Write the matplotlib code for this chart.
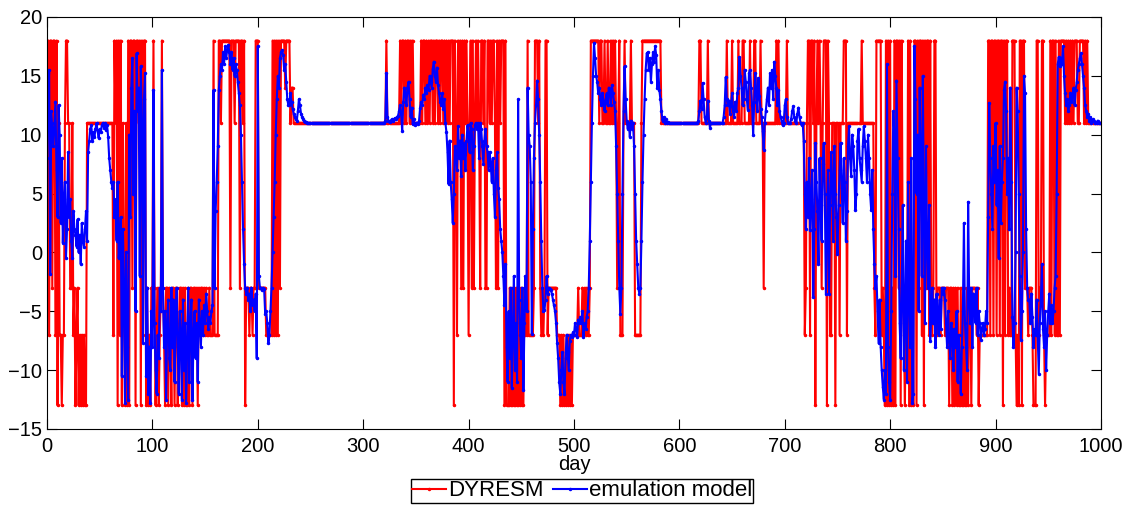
import numpy as np
import matplotlib
matplotlib.use("Agg")
import matplotlib.pyplot as plt

plt.rcParams['font.family'] = ['Liberation Sans', 'DejaVu Sans']

# DYRESM output, one value per day (days 0..999)
dyresm = [
    18, 18, -7, 18, 18, -3, 18, 18, -7, 18,
    -13, 11, -7, -7, -13, -7, -7, 11, 18, 18,
    11, 11, -3, -3, 11, -7, -3, -13, -7, -3,
    -13, -7, -13, -7, -13, -7, -13, -13, 11, 11,
    11, 11, 11, 11, 11, 11, 11, 11, 11, 11,
    11, 11, 11, 11, 11, 11, 11, 11, 11, 11,
    11, 11, 11, -7, 18, 11, 18, -13, 18, -7,
    18, -13, 11, -3, -13, 11, -13, 18, -13, 18,
    18, -3, 18, 18, -13, 18, 18, 11, 18, -13,
    18, -7, 18, 18, -13, -3, -13, -7, -13, -3,
    -3, 18, -3, -13, -7, -3, -13, -7, -3, 18,
    -3, -7, -13, -3, -3, -13, -3, -7, -13, -3,
    -3, -13, -3, -3, -13, -7, -3, -3, -13, -3,
    -13, -3, -13, -13, -3, -13, -3, -3, -13, -3,
    -3, -7, -3, -13, -3, -7, -3, -3, -7, -3,
    -7, -3, -7, -7, -3, -7, -7, -7, 18, -7,
    -7, -7, -7, 18, 18, 11, 18, 18, 18, 18,
    18, 18, 18, 18, -3, 18, 18, 18, 11, 18,
    18, 18, 18, -3, 18, 18, 11, 18, -13, -3,
    -3, -3, -7, -3, -3, -7, -3, -3, 18, 18,
    18, -3, -3, -3, -3, -3, -3, -3, -7, -7,
    -7, -7, -7, -7, 18, -7, 18, -7, 18, -7,
    18, -3, 18, 18, 18, 18, 14, 18, 18, 18,
    18, 11, 14, 14, 11, 11, 11, 11, 11, 11,
    11, 11, 11, 11, 11, 11, 11, 11, 11, 11,
    11, 11, 11, 11, 11, 11, 11, 11, 11, 11,
    11, 11, 11, 11, 11, 11, 11, 11, 11, 11,
    11, 11, 11, 11, 11, 11, 11, 11, 11, 11,
    11, 11, 11, 11, 11, 11, 11, 11, 11, 11,
    11, 11, 11, 11, 11, 11, 11, 11, 11, 11,
    11, 11, 11, 11, 11, 11, 11, 11, 11, 11,
    11, 11, 11, 11, 11, 11, 11, 11, 11, 11,
    11, 11, 18, 11, 11, 11, 11, 11, 11, 11,
    11, 11, 11, 11, 11, 18, 11, 18, 18, 11,
    18, 11, 18, 18, 11, 18, 11, 18, 11, 11,
    11, 11, 11, 11, 11, 18, 11, 18, 18, 11,
    18, 11, 18, 11, 18, 18, 11, 18, 11, 18,
    18, 11, 18, 11, 18, 18, 11, 18, 11, 18,
    11, 18, 11, 18, 18, 18, -13, 18, 11, -7,
    18, 11, 18, -3, 18, -3, 18, 11, 18, 11,
    -7, 11, 18, -3, 18, -3, 11, 18, 11, 18,
    11, -3, 18, 18, 11, 18, -3, -3, 18, 18,
    11, 18, 11, 18, 18, 11, -3, 18, -3, 18,
    11, 18, 18, 18, -13, 18, -13, -13, -13, -3,
    -13, -13, -3, -13, -13, -3, -13, -13, -3, -13,
    -3, -13, -13, -3, -7, -7, 18, -7, -7, -7,
    -7, -7, -3, 18, 18, 18, 11, 18, -3, -7,
    -3, -7, -3, 18, 18, -7, -3, -3, -3, -3,
    -3, -3, -3, -3, -7, -7, -7, -13, -7, -13,
    -7, -13, -13, -7, -13, -7, -13, -7, -13, -7,
    -7, -7, -7, -7, -3, -7, -7, -7, -3, -7,
    -3, -7, -3, -7, -7, -3, 18, 18, 18, 18,
    18, 18, 18, 18, 11, 18, 18, 11, 11, 18,
    11, 11, 18, 11, 11, 18, 11, 18, 11, 18,
    11, -3, 11, 18, -7, -7, -7, 11, 18, 11,
    11, 11, 11, 11, 18, 11, 11, 11, -7, -7,
    -7, -7, -7, -7, 11, 18, 18, 18, 18, 18,
    18, 18, 18, 18, 18, 18, 18, 18, 18, 18,
    18, 18, 18, 11, 11, 11, 11, 11, 11, 11,
    11, 11, 11, 11, 11, 11, 11, 11, 11, 11,
    11, 11, 11, 11, 11, 11, 11, 11, 11, 11,
    11, 11, 11, 11, 11, 11, 11, 11, 11, 18,
    18, 11, 11, 11, 11, 11, 11, 18, 11, 11,
    11, 11, 11, 11, 11, 11, 11, 11, 11, 11,
    11, 11, 11, 11, 11, 18, 11, 11, 11, 11,
    18, 11, 11, 11, 11, 11, 18, 11, 11, 11,
    18, 18, 11, 11, 11, 11, 11, 18, 11, 11,
    11, 18, 18, 11, 11, 11, 11, 18, 11, 11,
    -3, 11, 11, 11, 11, 11, 11, 11, 11, 11,
    11, 11, 18, 11, 18, 11, 11, 11, 11, 11,
    11, 11, 18, 11, 11, 11, 11, 11, 11, 11,
    11, 11, 11, 11, 11, 11, 11, 11, 11, -7,
    -3, 11, 18, 18, -7, 18, 18, 11, 18, -13,
    11, 18, 11, 18, 11, -3, 11, 18, 18, 18,
    -13, 18, 11, -7, -7, 11, 11, 11, -13, 11,
    11, 11, -7, 11, 11, 11, 18, 18, 18, -7,
    11, 11, 11, 11, 11, 11, 11, 11, 11, 11,
    11, 11, 11, 18, 11, 11, 11, 11, 11, 11,
    11, 11, 11, 11, 11, -3, -7, 18, 18, 18,
    18, 18, -7, -3, -7, -13, 18, -13, 18, -13,
    18, -13, -3, -13, 18, -13, 18, 18, -3, 18,
    -13, 18, -3, -7, -13, -3, -7, 18, -13, 18,
    -13, -3, -13, 18, 18, -13, 18, -3, 18, 18,
    -7, 18, -13, 18, -3, 18, 18, -7, 18, -3,
    -7, -3, 18, 18, -7, -3, -3, -3, -7, -3,
    -3, -3, -7, -3, -3, -3, -13, -3, -3, -13,
    -3, -13, -3, -13, -3, -13, -13, -3, -13, -13,
    -3, -13, -13, -3, -13, -3, -3, -13, -3, -3,
    -3, -3, -7, -3, -13, -7, -7, -7, -7, -7,
    -7, -7, -7, 18, 18, -7, 18, 18, -7, 18,
    18, -7, 18, 18, -7, 18, 18, -13, 18, -7,
    18, 18, -7, -3, -7, -7, 18, 18, 18, -7,
    -13, -7, -13, 18, 18, -13, 18, 18, -3, -3,
    -3, -7, -3, -3, -3, -7, -13, -13, -13, 18,
    18, -7, -3, -3, 18, 18, -7, -13, -7, -7,
    -7, -7, 18, -7, 18, 18, -7, 18, -7, -7,
    18, -7, 18, 18, 18, 18, 11, 18, 11, 18,
    11, 18, 11, 18, 11, 18, 18, 18, 11, 11,
    18, 18, 18, 18, 11, 18, 11, 18, 11, 11,
    11, 11, 11, 11, 11, 11, 11, 11, 11, 11,
]

# emulation model output, one value per day (days 0..999)
emulation = [
    8, 15.2, 15.5, -1.8, 12, 10.5, 9, 11, 12.8, 7,
    3, 12.5, 10, 2.5, 8, 0.8, 4.5, 6, -0.5, 2,
    8.5, 3, 4.5, 1, -0.5, 3.5, 2, 1.5, 0.5, 2.8,
    0, 1.5, -1, 2.5, 1, 0.5, 2, 3.5, 1, 8.5,
    9.5, 10.5, 10.8, 9.5, 10.2, 9.8, 10.5, 11, 10.3, 9.7,
    10.5, 10.2, 10.8, 11, 10.6, 11, 10.4, 10.8, 9.8, 8,
    7, 6, 5.5, 6, 3, 4.5, 1, 6, -0.5, 0.8,
    3, -10.5, 2, -3, -12.8, 0, -8, -12.5, 10, 3,
    14, 16.5, 5, 12, -5, 16.9, 12, 14, -2, 15.8,
    11, -7.7, 13, 15.2, -10.5, -3, -12, -8, -12.8, -5,
    -8, 13.8, -6, -10, -12, -7, -9, -3, -5, 15.5,
    -3, -8, -5, -12.5, -6, -4, -9, -10, -3, -8,
    -4, -11, -6, -3, -8, -12, -5, -7, -12.5, -4,
    -10, -6, -12.8, -8, -3, -11, -6, -4, -12.5, -7,
    -5, -9, -6, -11, -4, -6, -8, -5, -7, -4.5,
    -6, -3.5, -5, -6.5, -5.5, -6, -5, -4.5, 13.8, -3,
    3.5, 6, 9, 13.8, 15, 16, 15.5, 17, 16, 17.5,
    16.5, 17.2, 17.6, 17, 16, 17, 15.5, 16.5, 15, 16,
    15.5, 14.5, 13.5, 12.5, 10, 6, 2, -1, -3, -3.5,
    -3, -4, -3.5, -5, -3, -4.5, -4, -5, -3.5, -9,
    17.5, -2, -3, -3, -3.2, -3, -3.1, -5.2, -5, -6,
    -7.7, -7, -5, -3, 0, 3, 6, 10, 13, 15,
    14, 16.5, 17, 17.2, 16.8, 15.5, 16, 14.5, 13, 12.5,
    12.5, 13.5, 12.8, 12.2, 11.8, 11.5, 11.3, 11.2, 12, 13,
    12.5, 11.8, 11.5, 11.3, 11.2, 11.1, 11.1, 11, 11, 11,
    11, 11, 11, 11, 11, 11, 11, 11, 11, 11,
    11, 11, 11, 11, 11, 11, 11, 11, 11, 11,
    11, 11, 11, 11, 11, 11, 11, 11, 11, 11,
    11, 11, 11, 11, 11, 11, 11, 11, 11, 11,
    11, 11, 11, 11, 11, 11, 11, 11, 11, 11,
    11, 11, 11, 11, 11, 11, 11, 11, 11, 11,
    11, 11, 11, 11, 11, 11, 11, 11, 11, 11,
    11, 11.2, 15.2, 11.5, 11.2, 11.1, 11.2, 11.3, 11.2, 11.3,
    11.4, 11.3, 11.5, 11.6, 12, 12.5, 11.8, 10.3, 12.8, 14,
    13.5, 12.5, 14, 14.5, 13, 11.5, 12.3, 10.9, 11.3, 10.8,
    11, 11, 10.9, 11.2, 12.3, 12.8, 12.5, 13.4, 13, 14,
    13.5, 14.2, 13.8, 15, 14.5, 14, 15.6, 16.2, 15, 14.5,
    15.7, 14.2, 13.5, 12.8, 12.5, 13.5, 12.2, 13, 11, 10.2,
    8.5, 5.8, 9.5, 6, 4.5, 2.5, 5, 9, 8.5, 7,
    10.7, 8, 9.5, 6.5, 10, 8, 9.3, 7, 9.5, 10.8,
    10, 8.5, 11, 10.5, 7, 9, 10.8, 11, 10.5, 11,
    8, 11, 10.5, 9, 7.5, 9.5, 10.5, 9, 8.5, 7,
    8.5, 7.5, 6, 8, 5, 3, 7, 8.5, 5.5, 4.5,
    2, 1, 0, -2, -4.5, -1, -8, -11, -5, -9,
    -3, -11.5, -7, -2, -10, -6, -11, 13, -4, -7,
    -9, -3, -11.7, -6, -2, -5, 14, 10, 9, 6,
    -6.9, 2, 8, 11, 12.5, 14.6, 13, 10, 6, 1,
    -3, -5, -4.9, -4, -2, -3.5, -3, -3.1, -3.2, -3.5,
    -4, -4.5, -5, -6, -7.7, -9, -11, -12, -10, -8.5,
    -11, -12, -9, -7, -8.5, -10, -7.5, -7, -7.2, -6.8,
    -7, -6, -6.5, -7.2, -5.7, -6, -5.5, -6, -5, -7.2,
    -6, -6.5, -5.5, -5, -3, 1, 6, 11, 15, 17.8,
    16.5, 15, 14.5, 13.5, 14, 13, 12.5, 13.5, 12.8, 12,
    13, 13.5, 12.5, 14, 13.8, 12.5, 14.2, 13.5, 12.8, 12,
    9, 5, 1, -3, -5.2, -3, 5, 12, 15.8, 13,
    11.2, 10.5, 11, 9.8, 11.2, 10.5, 11, 9, 5, 1,
    -1, -3, -3.5, -3, 1, 6, 10, 13, 15.5, 16.9,
    17, 15.5, 16.5, 14.5, 16, 17, 16.2, 17.5, 16.8, 14,
    15.5, 13.8, 13, 12, 11.2, 11.5, 11, 11.3, 11, 11.1,
    11, 11, 11, 11, 11, 11, 11, 11, 11, 11,
    11, 11, 11, 11, 11, 11, 11, 11, 11, 11,
    11, 11, 11, 11, 11, 11, 11, 11, 11.2, 12,
    12.9, 12.2, 14.4, 13, 11.5, 11, 11.4, 12.9, 11.2, 10.6,
    11, 11, 11, 11, 11, 11, 11, 11, 11, 11,
    11, 11, 11.5, 12.5, 14.9, 13, 12.5, 12.9, 11.8, 12.5,
    13.5, 12, 11.5, 12.8, 12, 13.5, 14, 16.6, 15, 14,
    12.5, 13, 15.5, 14.5, 13, 12.1, 15.2, 15.5, 14, 12.5,
    10, 12.8, 15.2, 13.5, 12, 14.8, 13.3, 12.2, 11.5, 10.3,
    8.7, 11, 12, 13, 14, 12.5, 15.2, 14, 15.5, 13,
    16.2, 15, 14, 12.5, 13.8, 12, 11.5, 11.2, 10.8, 11,
    12.5, 13, 11.5, 11, 11, 11, 11.3, 12, 12.4, 11.5,
    11.2, 11, 11.8, 12.3, 11.5, 11, 10.8, 11, 9.5, 5,
    2, 6, 3, 8, 1.9, 4.5, 7, -3.8, 2, 9.3,
    6, 3.5, -1, 8, 4, 1, 7.5, 9.3, 5, -3.5,
    2, 7, -3.5, 4, 8.5, 6, 1, 9, 5, 3,
    -0.1, 4, 7, 9.3, 5.5, 2.5, 8, 6, 1, 3.5,
    9, 10.7, 8, 6.5, 10, 9, 7, 3.6, 5, 9.5,
    10.5, 8, 7, 6, 9, 10.7, 9.5, 8, 6, 10,
    8, 5, 3.6, 7, 2, -1, -3, -2, -5, -7.7,
    -4, -8, -10, -11.4, -12.5, -10, -12, 16, -8, -11,
    -12.5, -5, 5, 12, 10, -2, 14.6, 8, 2, -6,
    -9, -3, 4, -10, -6, 1, -11, 6, -4, -8,
    8, -12.8, -12, 17.5, 13, 5, 10, -5, 14, 8,
    -2, 15, 3, -6, 9, 1, -3, 4, -7.5, -5,
    -3, -6, -4, -8, -3.5, -5, -7, -4, -6.5, -3,
    -3.5, -3, -4, -6, -8, -5, -7.5, -9, -6, -7,
    -10, -6.5, -8, -5, -11, -7, -9, -12, -8, -5,
    2.5, -6, -8, -10, 4.3, -4, -6, -3, -8, -3.5,
    -4, -6, -3, -7, -5, -6, -7.4, -6.5, -6, -7,
    -6.5, -5, -6, 3, 12.7, 8, 5, 2, 9, 6,
    11, 4, 7, -0.5, 9, 2.5, 6, 8, 13.8, 14.5,
    12, 5, 8, 2, 14, 6, -5.5, -8, -6, 0,
    14, 12, 5, -2, -7.4, -5, 0, 15, 13.5, 2,
    -3, -4, -4, -6, -3.5, -5.5, -8, -6.5, -7, -4,
    -7, -10.3, -6, -4, -1, -6.5, -8, -5, -10, -7,
    -5, -3.5, -6, -4.5, -6, -5, -3, -2, 5, 16,
    16.6, 15.8, 16.5, 16, 17.5, 15, 13.5, 12.5, 13, 12,
    12.5, 13.5, 12.8, 13.2, 14, 12.5, 13.8, 14.5, 15.5, 16,
    16.5, 16.9, 16, 15, 14, 12.5, 12, 11.5, 11.8, 11.2,
    11.5, 11, 11.3, 11.2, 11, 11.1, 11, 11.2, 11, 11,
]

day = np.arange(len(dyresm))

fig = plt.figure(figsize=(11.33, 5.24), dpi=100)
ax = fig.add_axes([0.0415, 0.1813, 0.9302, 0.7863])

ax.plot(day, dyresm, color='#ff0000', lw=1.5, marker='.', ms=3, label='DYRESM')
ax.plot(np.arange(len(emulation)), emulation, color='#0000ff', lw=1.5,
        marker='.', ms=3, label='emulation model')

ax.set_xlim(0, 1000)
ax.set_ylim(-15, 20)
ax.set_xticks(range(0, 1001, 100))
ax.set_yticks(range(-15, 21, 5))
ax.tick_params(direction='in', top=True, right=True, length=7, width=0.8,
               labelsize=14.5)
ax.tick_params(axis='x', pad=6)
ax.tick_params(axis='y', pad=3.5)
for s in ax.spines.values():
    s.set_linewidth(0.8)
ax.set_xlabel('day', fontsize=14.5, labelpad=-1)

fig.legend(loc='center', bbox_to_anchor=(0.514, 0.063), ncol=2, fontsize=16,
           frameon=True, fancybox=False, edgecolor='black', framealpha=1,
           borderpad=0.05, handlelength=1.5, handletextpad=0.1,
           columnspacing=0.45, borderaxespad=0)

fig.savefig('out.png', dpi=100)
